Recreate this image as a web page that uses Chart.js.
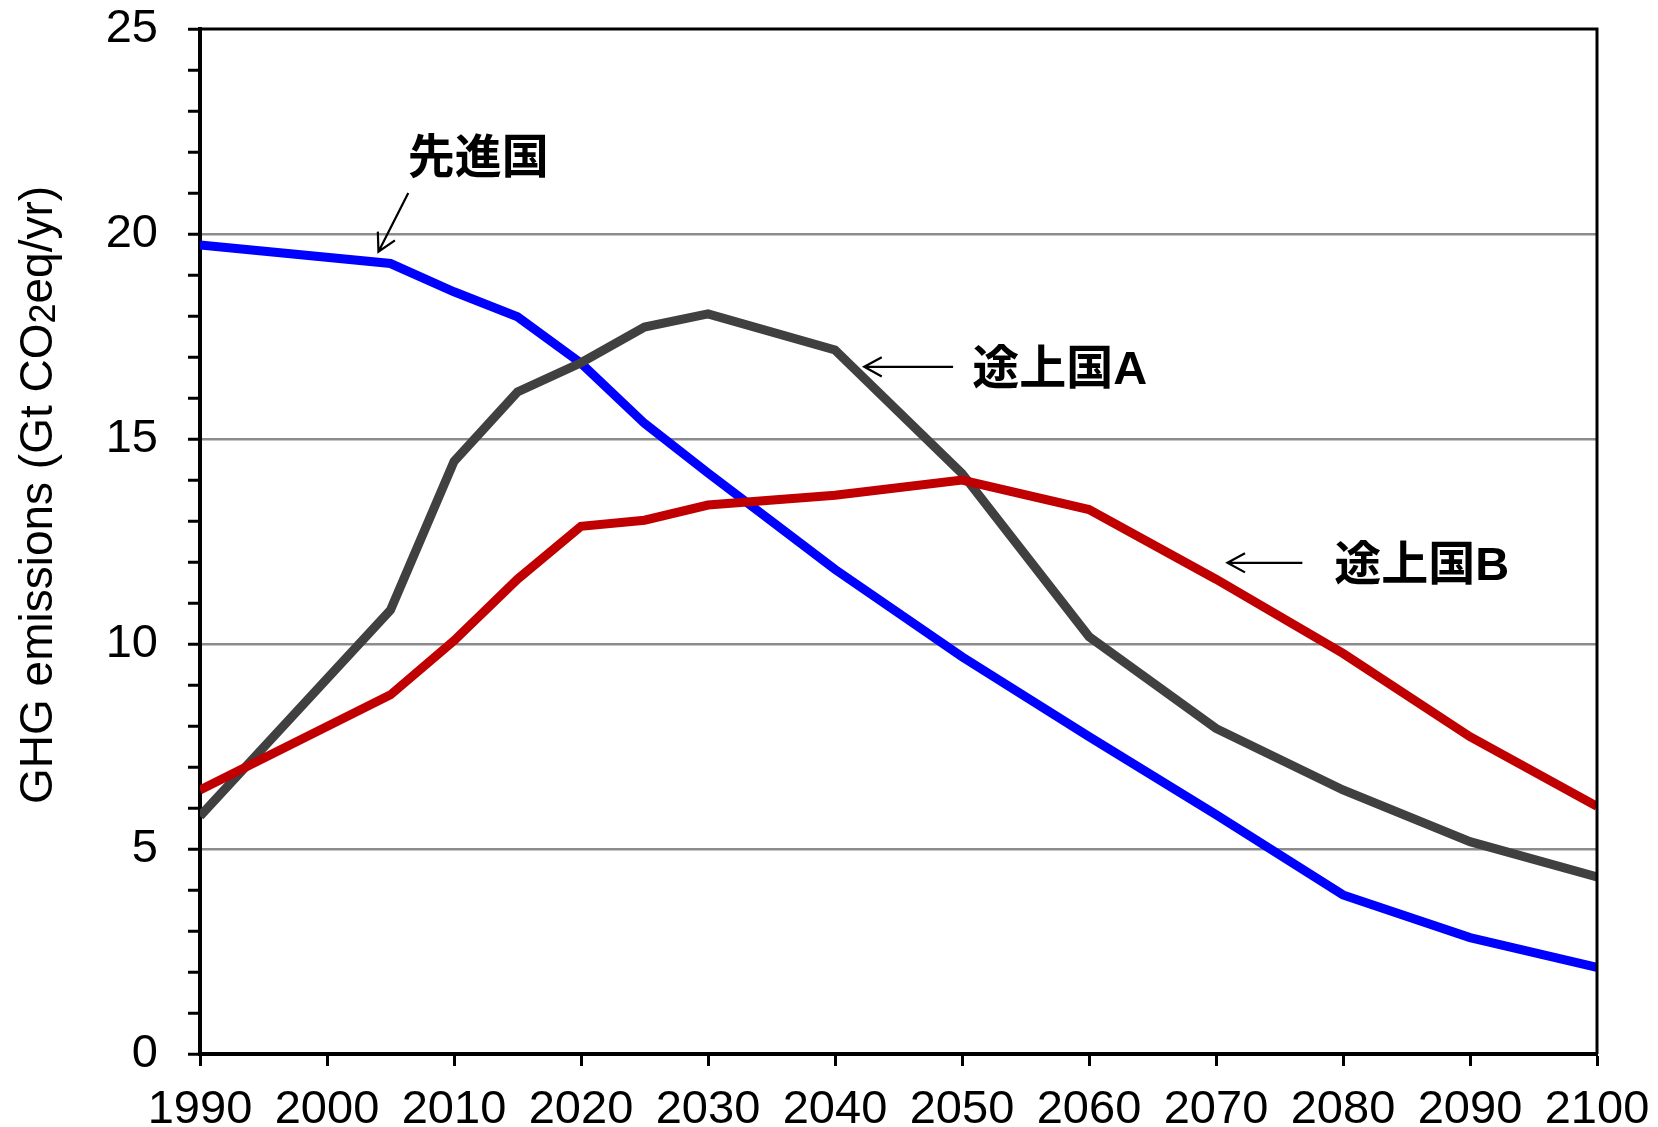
<!DOCTYPE html>
<html>
<head>
<meta charset="utf-8">
<script src="https://cdn.jsdelivr.net/npm/chart.js@4"></script>
<style>
  html, body { margin: 0; padding: 0; background: #fff; }
  #wrap { width: 1658px; height: 1127px; position: relative; }
</style>
</head>
<body>
<div id="wrap"><canvas id="c" width="1658" height="1127"></canvas></div>
<script>
// ---- data ----
const years = [1990, 2005, 2010, 2015, 2020, 2025, 2030, 2040, 2050, 2060, 2070, 2080, 2090, 2100];
const developed = [19.73, 19.28, 18.59, 17.98, 16.85, 15.38, 14.17, 11.82, 9.69, 7.74, 5.84, 3.88, 2.84, 2.11];
const developingA = [5.80, 10.83, 14.45, 16.15, 16.86, 17.73, 18.05, 17.17, 14.16, 10.18, 7.94, 6.44, 5.18, 4.32];
const developingB = [6.44, 8.76, 10.08, 11.58, 12.87, 13.02, 13.39, 13.63, 14.00, 13.28, 11.58, 9.77, 7.74, 6.04];
const seriesNames = ['先進国', '途上国A', '途上国B'];
const yTitleParts = ['GHG emissions (Gt CO', '2', 'eq/yr)'];
const xTicks = [1990, 2000, 2010, 2020, 2030, 2040, 2050, 2060, 2070, 2080, 2090, 2100];

// annotation anchors in data units (year, value)
const annotations = [
  { text: seriesNames[0], at: [2011.9, 21.80], from: [2006.4, 21.0], to: [2004.05, 19.57] },
  { text: seriesNames[1], at: [2057.7, 16.66], from: [2049.3, 16.76], to: [2042.3, 16.76] },
  { text: seriesNames[2], at: [2086.2, 11.87], from: [2076.8, 11.98], to: [2070.9, 11.98] }
];

const toXY = (xs, ys) => xs.map((x, i) => ({ x: x, y: ys[i] }));

const annoPlugin = {
  id: 'anno',
  afterDatasetsDraw(chart) {
    const ctx = chart.ctx, xs = chart.scales.x, ys = chart.scales.y;
    const a = chart.chartArea;
    ctx.save();
    ctx.strokeStyle = '#000';
    ctx.lineWidth = 3;
    ctx.beginPath();
    ctx.moveTo(a.left, a.top);
    ctx.lineTo(a.right, a.top);
    ctx.lineTo(a.right, a.bottom);
    ctx.stroke();
    ctx.fillStyle = '#000';
    ctx.font = 'bold 47px "Liberation Sans", "Noto Sans CJK JP", sans-serif';
    ctx.textAlign = 'center';
    ctx.textBaseline = 'middle';
    annotations.forEach(an => {
      ctx.fillText(an.text, xs.getPixelForValue(an.at[0]), ys.getPixelForValue(an.at[1]));
      const x1 = xs.getPixelForValue(an.from[0]), y1 = ys.getPixelForValue(an.from[1]);
      const x2 = xs.getPixelForValue(an.to[0]), y2 = ys.getPixelForValue(an.to[1]);
      ctx.lineWidth = 2.2;
      ctx.beginPath();
      ctx.moveTo(x1, y1); ctx.lineTo(x2, y2);
      const ang = Math.atan2(y1 - y2, x1 - x2);
      const L = 20, w = 0.5;
      ctx.moveTo(x2 + L * Math.cos(ang + w), y2 + L * Math.sin(ang + w));
      ctx.lineTo(x2, y2);
      ctx.lineTo(x2 + L * Math.cos(ang - w), y2 + L * Math.sin(ang - w));
      ctx.stroke();
    });
    ctx.restore();
  },
  afterDraw(chart) {
    const ctx = chart.ctx;
    ctx.save();
    ctx.translate(52, 804);
    ctx.rotate(-Math.PI / 2);
    ctx.fillStyle = '#000';
    ctx.textBaseline = 'alphabetic';
    ctx.textAlign = 'left';
    const big = '46px "Liberation Sans", Arial, sans-serif';
    const small = '36px "Liberation Sans", Arial, sans-serif';
    let x = 0;
    ctx.font = big; ctx.fillText(yTitleParts[0], x, 0); x += ctx.measureText(yTitleParts[0]).width;
    ctx.font = small; ctx.fillText(yTitleParts[1], x, 3); x += ctx.measureText(yTitleParts[1]).width;
    ctx.font = big; ctx.fillText(yTitleParts[2], x, 0);
    ctx.restore();
  }
};

new Chart(document.getElementById('c'), {
  type: 'line',
  data: {
    datasets: [
      { label: seriesNames[2], data: toXY(years, developingB), borderColor: '#C00000', order: 1 },
      { label: seriesNames[1], data: toXY(years, developingA), borderColor: '#404040', order: 2 },
      { label: seriesNames[0], data: toXY(years, developed), borderColor: '#0000FF', order: 3 }
    ]
  },
  options: {
    responsive: false,
    animation: false,
    devicePixelRatio: 1,
    layout: { padding: { left: 0, right: 61, top: 29, bottom: 0 } },
    elements: {
      line: { borderWidth: 9, tension: 0, fill: false, borderJoinStyle: 'miter' },
      point: { radius: 0, hoverRadius: 0 }
    },
    plugins: { legend: { display: false }, tooltip: { enabled: false } },
    scales: {
      x: {
        type: 'linear',
        min: 1990, max: 2100,
        afterFit(s) { s.height = 73; s.paddingLeft = 0; s.paddingRight = 0; },
        afterBuildTicks(s) { s.ticks = xTicks.map(v => ({ value: v })); },
        ticks: {
          color: '#000',
          font: { family: '"Liberation Sans", Arial, sans-serif', size: 47 },
          padding: 16,
          maxRotation: 0,
          autoSkip: false,
          callback: v => String(v)
        },
        grid: { drawOnChartArea: false, drawTicks: true, tickLength: 12, tickColor: '#000', tickWidth: 3 },
        border: { display: true, color: '#000', width: 4 }
      },
      y: {
        min: 0, max: 25,
        afterFit(s) { s.width = 200; s.paddingTop = 0; s.paddingBottom = 0; },
        ticks: {
          stepSize: 1,
          color: '#000',
          font: { family: '"Liberation Sans", Arial, sans-serif', size: 47 },
          padding: 30,
          autoSkip: false,
          callback: v => (v % 5 === 0 ? String(v) : '')
        },
        grid: {
          drawTicks: true,
          tickLength: 12,
          tickColor: '#000',
          tickWidth: 3,
          lineWidth: 2.5,
          color: c => (c.tick && c.tick.value % 5 === 0 && c.tick.value > 0 && c.tick.value < 25) ? '#8c8c8c' : 'rgba(0,0,0,0)'
        },
        border: { display: true, color: '#000', width: 4 }
      }
    }
  },
  plugins: [annoPlugin]
});
</script>
</body>
</html>
